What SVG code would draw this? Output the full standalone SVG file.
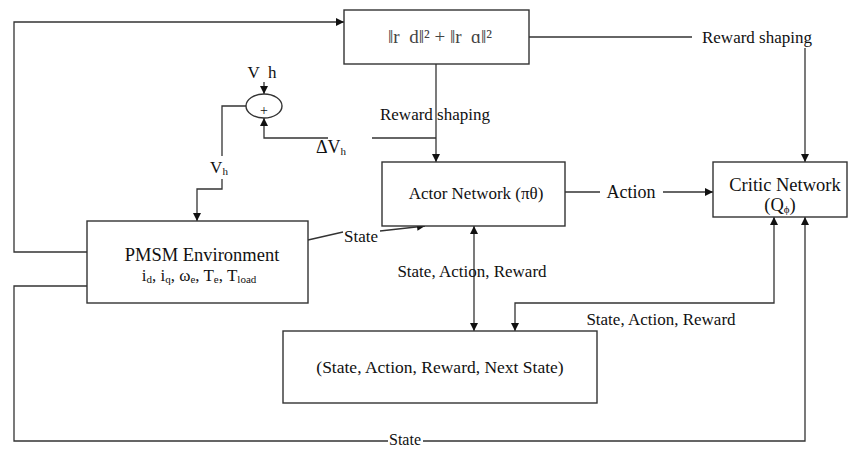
<svg xmlns="http://www.w3.org/2000/svg" width="849" height="449" viewBox="0 0 849 449">
<style>
.box{fill:#fff;stroke:#333;stroke-width:1.4}
.ln{fill:none;stroke:#333;stroke-width:1.3}
.t{font-family:"Liberation Serif","Times New Roman",serif;font-size:17px;fill:#111;text-anchor:middle}
.big{font-size:18.5px}
.sub{font-size:11px}
</style>
<defs>
<marker id="ah" viewBox="0 0 10 10" refX="10" refY="5" markerWidth="9" markerHeight="8" markerUnits="userSpaceOnUse" orient="auto-start-reverse">
<path d="M0,0 L10,5 L0,10 z" fill="#111"/>
</marker>
</defs>
<rect width="849" height="449" fill="#fff"/>
<g id="connectors">
<path class="ln" d="M87,252 H14 V22 H344" marker-end="url(#ah)"/>
<path class="ln" d="M87,286 H14 V441 H388"/>
<path class="ln" d="M423,441 H805 V217" marker-end="url(#ah)"/>
<text class="t" x="405" y="445" style="font-size:16px">State</text>
<path class="ln" d="M436,64 V162" marker-end="url(#ah)"/>
<text class="t" x="435" y="120">Reward shaping</text>
<path class="ln" d="M436,138 H372"/>
<path class="ln" d="M328,138 H264 V118" marker-end="url(#ah)"/>
<text class="t" x="331" y="153" text-anchor="start" style="font-size:18px">ΔV<tspan class="sub" dy="2">h</tspan></text>
<text class="t" x="262" y="78" style="white-space:pre">V  h</text>
<path class="ln" d="M264,82 V94" marker-end="url(#ah)"/>
<path class="ln" d="M246,106 H222 V156"/>
<text class="t" x="219" y="173">V<tspan class="sub" dy="2">h</tspan></text>
<path class="ln" d="M222,179 V189 H197 V221" marker-end="url(#ah)"/>
<path class="ln" d="M308,240 L343,232"/>
<text class="t" x="361" y="242">State</text>
<path class="ln" d="M380,231 L425,226" marker-end="url(#ah)"/>
<path class="ln" d="M565,192 H600"/>
<text class="t" x="631" y="198" style="font-size:18px">Action</text>
<path class="ln" d="M663,192 H713" marker-end="url(#ah)"/>
<path class="ln" d="M474,226 V331" marker-start="url(#ah)" marker-end="url(#ah)"/>
<text class="t" x="472" y="277">State, Action, Reward</text>
<path class="ln" d="M774,217 V303 H515 V331" marker-start="url(#ah)" marker-end="url(#ah)"/>
<text class="t" x="661" y="325">State, Action, Reward</text>
<path class="ln" d="M529,37 H692"/>
<text class="t" x="757" y="43">Reward shaping</text>
<path class="ln" d="M805,48 V162" marker-end="url(#ah)"/>
</g>
<g id="reward">
<rect class="box" x="344" y="10" width="185" height="54"/>
<text class="t" x="440" y="43" style="fill:#444;font-size:19px;white-space:pre">‖r  d‖² + ‖r  ɑ‖²</text>
</g>
<g id="sum">
<ellipse class="box" cx="264" cy="106" rx="18" ry="12"/>
<text class="t" x="264" y="115" style="font-size:14px">+</text>
</g>
<g id="pmsm">
<rect class="box" x="87" y="221" width="221" height="82"/>
<text class="t big" x="202" y="261">PMSM Environment</text>
<text class="t" x="199" y="281">i<tspan class="sub" dy="2">d</tspan><tspan dy="-2">, i</tspan><tspan class="sub" dy="2">q</tspan><tspan dy="-2">, ω</tspan><tspan class="sub" dy="2">e</tspan><tspan dy="-2">, T</tspan><tspan class="sub" dy="2">e</tspan><tspan dy="-2">, T</tspan><tspan class="sub" dy="2">load</tspan></text>
</g>
<g id="actor">
<rect class="box" x="382" y="162" width="183" height="64"/>
<text class="t" x="476" y="199">Actor Network (πθ)</text>
</g>
<g id="critic">
<rect class="box" x="713" y="162" width="134" height="55"/>
<text class="t big" x="785" y="191">Critic Network</text>
<text class="t big" x="780" y="211">(Q<tspan class="sub" dy="2">ϕ</tspan><tspan dy="-2">)</tspan></text>
</g>
<g id="buffer">
<rect class="box" x="283" y="331" width="314" height="72"/>
<text class="t" x="440" y="373" style="font-size:17.5px">(State, Action, Reward, Next State)</text>
</g>
</svg>
